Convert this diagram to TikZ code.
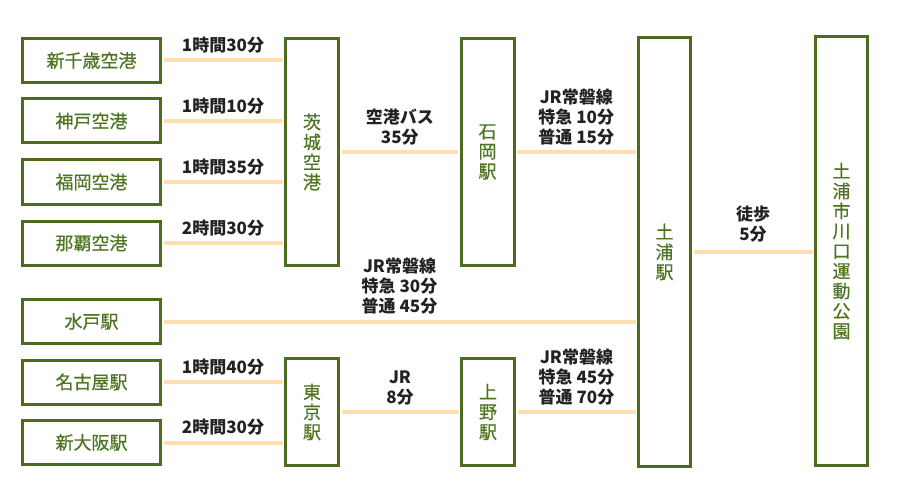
\documentclass[tikz,border=0pt]{standalone}
\usepackage{fontspec}
\setmainfont{Noto Sans CJK JP}
\newfontfamily\medio{Noto Sans CJK JP}[FakeBold=0.6]
\usetikzlibrary{positioning}
\definecolor{verde}{RGB}{76,107,30}
\definecolor{verdetxt}{RGB}{78,118,34}
\definecolor{naranja}{RGB}{255,222,178}
\definecolor{tinta}{RGB}{34,34,34}

\begin{document}
\begin{tikzpicture}[x=1pt,y=-1pt,
	caja/.style={draw=verde,line width=3pt,fill=white,text=verdetxt,inner sep=0pt,
		font=\medio\fontsize{18}{20}\selectfont},
	ancha/.style={caja,minimum width=138pt,minimum height=44pt},
	alta/.style={caja,align=center,minimum width=53pt},
	linea/.style={draw=naranja,line width=4pt,shorten <=1.5pt,shorten >=1.5pt},
	etq/.style={text=tinta,align=center,inner sep=2pt,above=3pt,
		font=\bfseries\fontsize{17}{20}\selectfont}]
		%Marco
		\useasboundingbox[fill=white] (0,0) rectangle (900,500);
		
		%Origen
		\node[ancha] (chitose) at (91.5,60.5) {新千歳空港};
		\node[ancha] (kobe) at (91.5,121) {神戸空港};
		\node[ancha] (fukuoka) at (91.5,182) {福岡空港};
		\node[ancha] (naha) at (91.5,243) {那覇空港};
		\node[ancha] (mito) at (91.5,321.5) {水戸駅};
		\node[ancha] (nagoya) at (91.5,382) {名古屋駅};
		\node[ancha] (osaka) at (91.5,442.5) {新大阪駅};
		
		%Estaciones
		\node[alta,minimum height=227pt] (ibaraki) at (312,152) {茨\\城\\空\\港};
		\node[alta,minimum height=227pt] (ishioka) at (487.5,152) {石\\岡\\駅};
		\node[alta,minimum height=107pt] (tokyo) at (312,412) {東\\京\\駅};
		\node[alta,minimum height=107pt] (ueno) at (488,412) {上\\野\\駅};
		\node[alta,minimum height=429pt,minimum width=52pt] (tsuchiura) at (664.5,252) {土\\浦\\駅};
		\node[alta,minimum height=429pt,minimum width=52pt] (parque) at (841.5,251) {土\\浦\\市\\川\\口\\運\\動\\公\\園};
		
		%Aeropuertos
		\draw[linea] (chitose.east) -- (chitose.east -| ibaraki.west) node[etq,midway]{1時間30分};
		\draw[linea] (kobe.east) -- (kobe.east -| ibaraki.west) node[etq,midway]{1時間10分};
		\draw[linea] (fukuoka.east) -- (fukuoka.east -| ibaraki.west) node[etq,midway]{1時間35分};
		\draw[linea] (naha.east) -- (naha.east -| ibaraki.west) node[etq,midway]{2時間30分};
		\draw[linea] (ibaraki.east) -- (ishioka.west) node[etq,midway]{空港バス\\35分};
		\draw[linea] (ishioka.east) -- (ishioka.east -| tsuchiura.west) node[etq,midway]{JR常磐線\\特急 10分\\普通 15分};
		
		%Trenes
		\draw[linea] (mito.east) -- (mito.east -| tsuchiura.west) node[etq,midway]{JR常磐線\\特急 30分\\普通 45分};
		\draw[linea] (nagoya.east) -- (nagoya.east -| tokyo.west) node[etq,midway]{1時間40分};
		\draw[linea] (osaka.east) -- (osaka.east -| tokyo.west) node[etq,midway]{2時間30分};
		\draw[linea] (tokyo.east) -- (ueno.west) node[etq,midway]{JR\\8分};
		\draw[linea] (ueno.east) -- (ueno.east -| tsuchiura.west) node[etq,midway]{JR常磐線\\特急 45分\\普通 70分};
		
		%A pie
		\draw[linea] (tsuchiura.east) -- (tsuchiura.east -| parque.west) node[etq,midway,above=6pt]{徒歩\\5分};
	
	\end{tikzpicture}
\end{document}
